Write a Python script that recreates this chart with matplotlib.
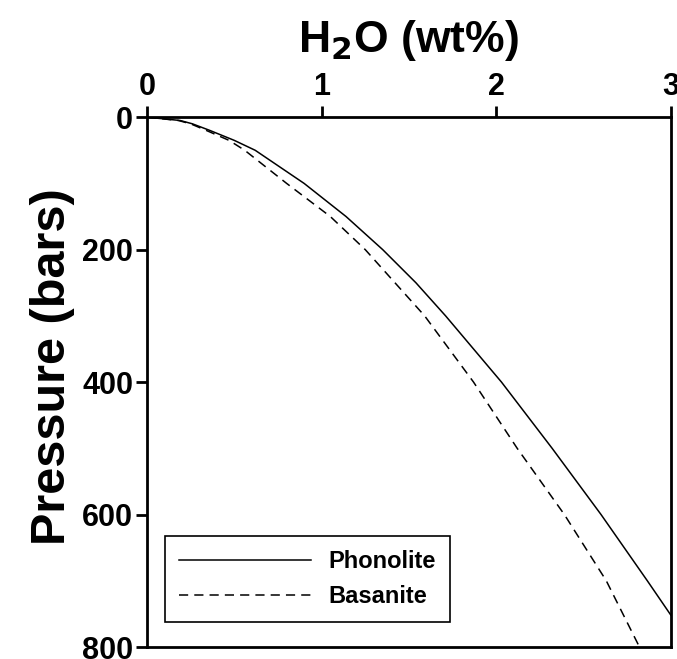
import matplotlib
matplotlib.use("Agg")
import matplotlib.pyplot as plt

plt.rcParams["font.family"] = ["Liberation Sans", "DejaVu Sans"]
plt.rcParams["font.weight"] = "bold"

# presion (bar) y contenido de agua (wt%)
p_phon = [0, 5, 10, 20, 35, 50, 100, 150, 200, 250, 300, 400, 500, 600, 700, 752]
wt_phon = [0, 0.19, 0.26, 0.36, 0.50, 0.62, 0.90, 1.14, 1.35, 1.54, 1.71, 2.03,
           2.32, 2.60, 2.865, 3.0]

p_bas = [0, 5, 10, 20, 35, 50, 100, 150, 200, 250, 300, 400, 500, 600, 700, 800]
wt_bas = [0, 0.18, 0.25, 0.34, 0.47, 0.56, 0.80, 1.05, 1.25, 1.42, 1.59, 1.87,
          2.12, 2.39, 2.63, 2.82]

xticks = [0, 1, 2, 3]
yticks = [0, 200, 400, 600, 800]

fig = plt.figure(figsize=(6.77, 6.59), dpi=100)
ax = fig.add_axes([0.217, 0.0182, 0.774, 0.804])

ax.plot(wt_phon, p_phon, "k-", lw=1.1, label="Phonolite")
ax.plot(wt_bas, p_bas, "k--", lw=1.1, dashes=(6, 4), label="Basanite")

ax.set_xlim(0, 3); ax.set_ylim(800, 0)
ax.set_xticks(xticks); ax.set_yticks(yticks)
ax.xaxis.tick_top(); ax.xaxis.set_label_position("top")
ax.tick_params(axis="both", direction="out", length=8, width=2, labelsize=22)
ax.tick_params(axis="x", top=True, bottom=False, pad=3)
ax.tick_params(axis="y", pad=2)
for lb in ax.get_xticklabels() + ax.get_yticklabels():
    lb.set_fontweight("bold")
for s in ax.spines.values():
    s.set_linewidth(2)

ax.set_xlabel("H$_2$O (wt%)", fontsize=32, fontweight="bold", labelpad=14)
ax.set_ylabel("Pressure (bars)", fontsize=35, fontweight="bold")
ax.yaxis.set_label_coords(-0.138, 0.53)

leg = ax.legend(loc="lower left", bbox_to_anchor=(0.034, 0.047), borderaxespad=0,
                fancybox=False, edgecolor="k", framealpha=1,
                handlelength=5.6, handletextpad=0.75, borderpad=0.6,
                labelspacing=0.5, prop={"weight": "bold", "size": 17})
leg.get_frame().set_linewidth(1.2)

fig.savefig("out.png", dpi=100)
